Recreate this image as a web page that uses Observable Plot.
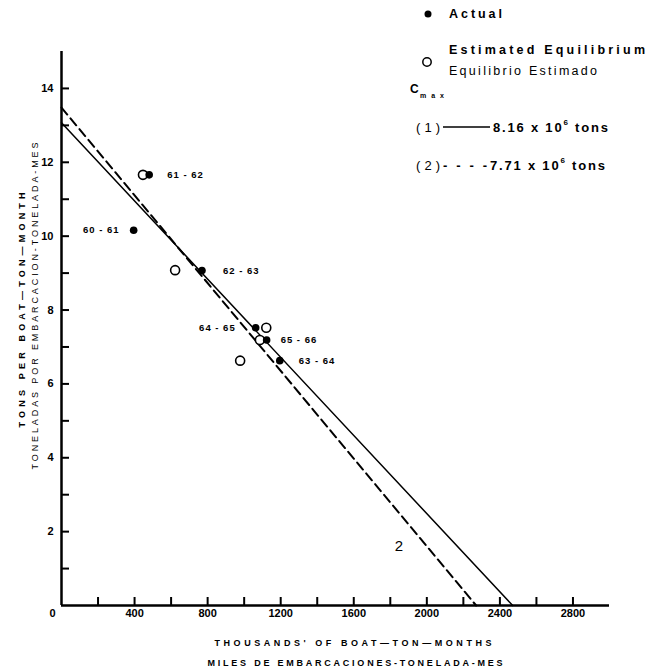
<!DOCTYPE html>
<html><head><meta charset="utf-8">
<script src="https://cdn.jsdelivr.net/npm/d3@7"></script>
<script src="https://cdn.jsdelivr.net/npm/@observablehq/plot@0.6"></script>
<style>
body{margin:0;background:#fff;}
#chart{position:relative;width:653px;height:671px;}
</style></head><body><div id="chart"></div>
<script>
// ---- data ----
const seasons = ["60-61", "61-62", "62-63", "63-64", "64-65", "65-66"];
const actualEffort = [395, 480, 769, 1195, 1063, 1123];     // thousands of boat-ton-months
const actualCPUE = [10.16, 11.66, 9.07, 6.63, 7.52, 7.19];   // tons per boat-ton-month
const equilSeasons = ["61-62", "62-63", "63-64", "64-65", "65-66"];
const equilEffort = [446, 622, 978, 1121, 1086];
const equilCPUE = [11.66, 9.08, 6.63, 7.52, 7.19];
const fitNames = ["1", "2"];
const fitYIntercepts = [13.07, 13.48];
const fitXIntercepts = [2470, 2270];
const cmaxValues = ["8.16", "7.71"];
const lineLabel = ["2"];
const lineLabelPos = [1847, 1.6];
const xTickLabels = [400, 800, 1200, 1600, 2000, 2400, 2800];
const xMinorTicks = [200, 400, 600, 800, 1000, 1200, 1400, 1600, 1800, 2000, 2200, 2400, 2600, 2800];
const yTickLabels = [2, 4, 6, 8, 10, 12, 14];
const yMinorTicks = [1, 2, 3, 4, 5, 6, 7, 8, 9, 10, 11, 12, 13, 14];

// ---- layout / style (not data) ----
const leftLabels = new Set(["60-61", "64-65"]);
const labelDx = {"60-61": -14, "61-62": 18, "62-63": 21, "63-64": 19, "64-65": -20, "65-66": 14};
const FONT = '"Liberation Sans", Arial, sans-serif';

const actual = seasons.map((s, i) => ({season: s, x: actualEffort[i], y: actualCPUE[i]}));
const equil = equilSeasons.map((s, i) => ({season: s, x: equilEffort[i], y: equilCPUE[i]}));
const fits = fitNames.flatMap((n, i) => [
  {fit: n, x: 0, y: fitYIntercepts[i]},
  {fit: n, x: fitXIntercepts[i], y: 0}
]);
const fmt = s => s.replace("-", " - ");

const W = 653, H = 671, mL = 61, mR = 44, mT = 51, mB = 66;
const plot = Plot.plot({
  width: W, height: H,
  marginLeft: mL, marginRight: mR, marginTop: mT, marginBottom: mB,
  style: {background: "#fff", color: "#000", fontFamily: FONT, fontSize: "11px", fontWeight: "bold"},
  x: {domain: [0, 3000]},
  y: {domain: [0, 15]},
  marks: [
    Plot.ruleX(xMinorTicks, {x: d => d, insetTop: (H - mT - mB) - 8, strokeWidth: 2}),
    Plot.ruleY(yMinorTicks, {y: d => d, insetRight: (W - mL - mR) - 8, strokeWidth: 2}),
    Plot.axisX(xTickLabels, {tickSize: 0, tickPadding: 4, label: null, fontWeight: "bold", tickFormat: d => String(d)}),
    Plot.axisY(yTickLabels, {tickSize: 0, tickPadding: 8, label: null, fontWeight: "bold", tickFormat: d => String(d)}),
    Plot.text(["0"], {x: 0, y: 0, dx: -9, dy: 8, fontWeight: "bold", fontSize: 11}),
    Plot.ruleX([0], {strokeWidth: 2.5}),
    Plot.ruleY([0], {strokeWidth: 2.5}),
    Plot.line(fits.filter(d => d.fit === "1"), {x: "x", y: "y", stroke: "#000", strokeWidth: 1.5}),
    Plot.line(fits.filter(d => d.fit === "2"), {x: "x", y: "y", stroke: "#000", strokeWidth: 2, strokeDasharray: "9,5"}),
    Plot.dot(equil, {x: "x", y: "y", r: 4.5, stroke: "#000", strokeWidth: 1.6, fill: "#fff"}),
    Plot.dot(actual, {x: "x", y: "y", r: 3.8, fill: "#000"}),
    Plot.text(actual.filter(d => !leftLabels.has(d.season)), {x: "x", y: "y", text: d => fmt(d.season), textAnchor: "start", fontSize: 9.5, fontWeight: "bold"}),
    Plot.text(actual.filter(d => leftLabels.has(d.season)), {x: "x", y: "y", text: d => fmt(d.season), textAnchor: "end", fontSize: 9.5, fontWeight: "bold"}),
    Plot.text(lineLabel, {x: () => lineLabelPos[0], y: () => lineLabelPos[1], text: d => d, fontSize: 15, fontWeight: "normal"})
  ]
});

const svg = d3.select(plot);
// apply per-label offsets and spacing
const labelTexts = new Map(seasons.map(s => [fmt(s), s]));
svg.selectAll("text").each(function() {
  const t = this.textContent;
  if (labelTexts.has(t)) {
    const s = labelTexts.get(t);
    const dx = labelDx[s];
    const cur = this.getAttribute("transform") || "";
    this.setAttribute("transform", cur + ` translate(${dx},0)`);
    this.setAttribute("letter-spacing", "1");
  }
});

// axis titles
function addText(x, y, str, opts) {
  const t = svg.append("text")
    .attr("x", x).attr("y", y)
    .attr("text-anchor", opts.anchor || "middle")
    .attr("dominant-baseline", "central")
    .attr("font-family", FONT)
    .attr("font-size", opts.size || 9)
    .attr("font-weight", opts.weight || "bold")
    .attr("fill", "#000")
    .text(str);
  if (opts.len) t.attr("textLength", opts.len).attr("lengthAdjust", "spacing");
  if (opts.rotate) t.attr("transform", `rotate(${opts.rotate},${x},${y})`);
  return t;
}
addText(22, 310, "TONS PER BOAT—TON—MONTH", {rotate: -90, len: 235, size: 9});
addText(35, 306, "TONELADAS POR EMBARCACION-TONELADA-MES", {rotate: -90, len: 327, size: 9, weight: "normal"});
addText(353, 643, "THOUSANDS' OF BOAT—TON—MONTHS", {len: 277, size: 9});
addText(355, 663, "MILES DE EMBARCACIONES-TONELADA-MES", {len: 295, size: 9});

// legend
svg.append("circle").attr("cx", 428).attr("cy", 14).attr("r", 3.5).attr("fill", "#000");
addText(449, 14, "Actual", {anchor: "start", size: 12.5, len: 53});
addText(449, 50, "Estimated Equilibrium", {anchor: "start", size: 12.5, len: 196});
svg.append("circle").attr("cx", 427).attr("cy", 62).attr("r", 4.2).attr("fill", "#fff").attr("stroke", "#000").attr("stroke-width", 1.5);
addText(449, 71, "Equilibrio Estimado", {anchor: "start", size: 12.5, len: 148, weight: "normal"});
addText(410, 89, "C", {anchor: "start", size: 12});
addText(420, 95, "max", {anchor: "start", size: 7, len: 24});
cmaxValues.forEach((v, i) => {
  const y = 127 + i * 38;
  addText(416, y, `(${fitNames[i]})`, {anchor: "start", size: 13, weight: "normal", len: 24});
  let startX;
  if (i === 0) {
    svg.append("line").attr("x1", 443).attr("x2", 490).attr("y1", y).attr("y2", y).attr("stroke", "#000").attr("stroke-width", 1.3);
    startX = 493;
  } else {
    addText(443, y, "----", {anchor: "start", size: 13, len: 44});
    startX = 490;
  }
  const t = addText(startX, y, "", {anchor: "start", size: 13});
  t.attr("letter-spacing", 1.8);
  t.append("tspan").text(`${v} x 10`);
  t.append("tspan").attr("dy", -5).attr("font-size", 8).text("6");
  t.append("tspan").attr("dy", 5).text(" tons");
});

document.getElementById("chart").appendChild(plot);
</script></body></html>
